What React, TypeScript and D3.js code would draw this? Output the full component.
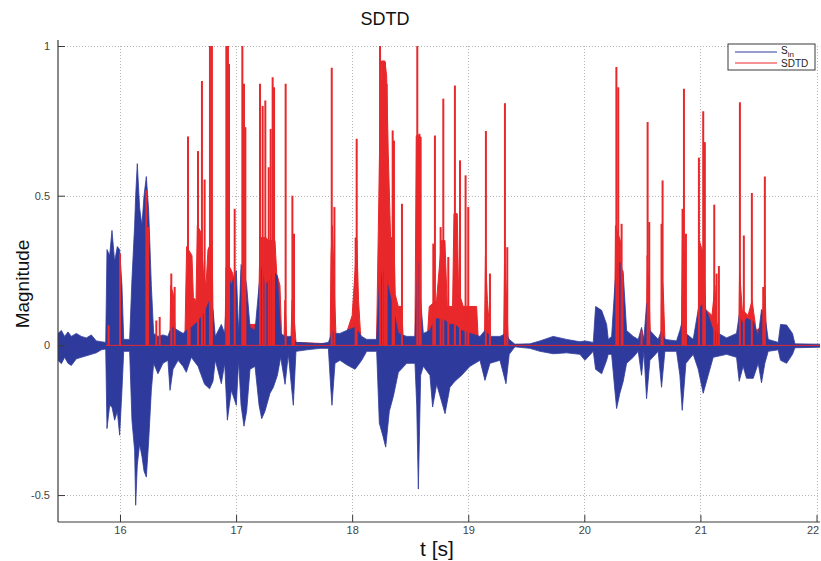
import { useEffect, useRef } from "react";
import * as d3 from "d3";

// S_in envelope: time, upper and lower extent
const sinT = [
  15.466, 15.495, 15.523, 15.552, 15.581, 15.624, 15.667, 15.71, 15.753, 15.796, 15.839, 15.877,
  15.888, 15.911, 15.931, 15.954, 15.977, 15.997, 16.017, 16.032, 16.083,
  16.103, 16.126, 16.135, 16.149, 16.169, 16.189, 16.207, 16.227, 16.247, 16.27, 16.29,
  16.327, 16.37, 16.413, 16.431, 16.457, 16.5, 16.543, 16.571, 16.614, 16.672, 16.729, 16.772, 16.801, 16.821,
  16.873, 16.902, 16.925, 16.959, 17.002, 17.022,
  17.043, 17.068, 17.091, 17.12, 17.163, 17.198, 17.221, 17.249, 17.292, 17.321, 17.356, 17.384,
  17.422, 17.45, 17.493, 17.516, 17.608, 17.723, 17.795, 17.815, 17.826, 17.852, 17.895, 17.953,
  18.025, 18.082, 18.125, 18.211, 18.234, 18.263, 18.289, 18.32, 18.355, 18.398, 18.47, 18.541,
  18.556, 18.57, 18.59, 18.613, 18.67, 18.693, 18.728, 18.8, 18.842, 18.885, 18.943, 19.015,
  19.101, 19.144, 19.187, 19.273, 19.325, 19.353, 19.402, 19.531, 19.618, 19.732, 19.847, 19.962,
  20.005, 20.077, 20.097, 20.149, 20.192, 20.206, 20.235, 20.263, 20.278, 20.306, 20.335, 20.364,
  20.421, 20.464, 20.493, 20.513, 20.536, 20.565, 20.636, 20.665, 20.694, 20.794, 20.823, 20.843,
  20.875, 20.938, 20.981, 21.024, 21.067, 21.11, 21.225, 21.311, 21.334, 21.368, 21.397, 21.455,
  21.498, 21.526, 21.555, 21.584, 21.67, 21.69, 21.742, 21.793, 21.814, 22.037,
];
const sinHi = [
  0.04, 0.05, 0.03, 0.045, 0.03, 0.04, 0.03, 0.025, 0.035, 0.015, 0.012, 0.01,
  0.32, 0.3, 0.384, 0.28, 0.33, 0.32, 0.2, 0.02, 0.02,
  0.22, 0.4, 0.5, 0.607, 0.46, 0.4, 0.5, 0.564, 0.45, 0.2, 0.04,
  0.03, 0.035, 0.03, 0.05, 0.06, 0.05, 0.04, 0.05, 0.06, 0.08, 0.11, 0.15, 0.12, 0.03,
  0.07, 0.04, 0.24, 0.2, 0.25, 0.04,
  0.27, 0.25, 0.2, 0.06, 0.05, 0.2, 0.26, 0.2, 0.22, 0.25, 0.23, 0.04,
  0.03, 0.03, 0.03, 0.01, 0.008, 0.005, 0.01, 0.03, 0.05, 0.04, 0.04, 0.05,
  0.06, 0.03, 0.02, 0.02, 0.2, 0.25, 0.23, 0.18, 0.12, 0.04, 0.03, 0.03,
  0.2, 0.28, 0.15, 0.04, 0.05, 0.07, 0.09, 0.083, 0.07, 0.07, 0.05, 0.04,
  0.03, 0.05, 0.03, 0.03, 0.04, 0.02, 0.004, 0.005, 0.015, 0.03, 0.02, 0.012,
  0.015, 0.01, 0.13, 0.117, 0.07, 0.02, 0.03, 0.2, 0.27, 0.278, 0.24, 0.05,
  0.03, 0.02, 0.06, 0.02, 0.14, 0.05, 0.02, 0.05, 0.02, 0.015, 0.05, 0.08,
  0.04, 0.02, 0.12, 0.14, 0.1, 0.05, 0.025, 0.04, 0.1, 0.07, 0.09, 0.08,
  0.03, 0.12, 0.1, 0.02, 0.01, 0.07, 0.068, 0.04, 0.005, 0.004,
];
const sinLo = [
  -0.05, -0.061, -0.04, -0.06, -0.067, -0.045, -0.04, -0.035, -0.03, -0.025, -0.015, -0.012,
  -0.278, -0.2, -0.206, -0.25, -0.22, -0.3, -0.15, -0.02, -0.02,
  -0.25, -0.35, -0.534, -0.4, -0.33, -0.37, -0.42, -0.44, -0.32, -0.15, -0.06,
  -0.095, -0.06, -0.05, -0.15, -0.08, -0.05, -0.07, -0.09, -0.04, -0.07, -0.13, -0.145, -0.12, -0.05,
  -0.128, -0.06, -0.25, -0.15, -0.2, -0.05,
  -0.2, -0.27, -0.22, -0.08, -0.07, -0.2, -0.245, -0.22, -0.16, -0.14, -0.1, -0.04,
  -0.13, -0.03, -0.2, -0.02, -0.015, -0.01, -0.01, -0.14, -0.2, -0.06, -0.05, -0.065,
  -0.08, -0.05, -0.02, -0.02, -0.26, -0.3, -0.34, -0.22, -0.17, -0.09, -0.06, -0.06,
  -0.2, -0.48, -0.1, -0.07, -0.1, -0.206, -0.13, -0.228, -0.14, -0.12, -0.1, -0.07,
  -0.05, -0.117, -0.06, -0.05, -0.128, -0.03, -0.005, -0.01, -0.02, -0.028, -0.025, -0.03,
  -0.05, -0.02, -0.08, -0.095, -0.05, -0.03, -0.03, -0.15, -0.211, -0.16, -0.12, -0.06,
  -0.04, -0.02, -0.1, -0.02, -0.178, -0.05, -0.02, -0.14, -0.02, -0.02, -0.1, -0.217,
  -0.06, -0.03, -0.08, -0.16, -0.1, -0.04, -0.03, -0.04, -0.12, -0.07, -0.11, -0.11,
  -0.06, -0.125, -0.06, -0.02, -0.015, -0.05, -0.06, -0.03, -0.008, -0.006,
];

// SDTD solid body
const sdtdBodyT = [
  15.88, 15.9, 15.92, 15.985, 15.995, 16.005, 16.02,
  16.2, 16.215, 16.225, 16.24, 16.255, 16.27, 16.285,
  16.43, 16.437, 16.46, 16.475, 16.52, 16.56, 16.574, 16.62, 16.632, 16.655, 16.666, 16.695,
  16.718, 16.741, 16.758, 16.793, 16.804, 16.905, 16.913, 16.948, 16.971, 16.994, 17.011,
  17.037, 17.045, 17.068, 17.083, 17.106, 17.192, 17.206, 17.258, 17.278, 17.335, 17.35, 17.378,
  17.393, 17.413, 17.421, 17.436, 17.473, 17.482, 17.499, 17.516,
  17.81, 17.818, 17.83, 17.845, 17.86, 17.9, 17.95, 18.0, 18.025, 18.04, 18.055, 18.075,
  18.21, 18.225, 18.239, 18.253, 18.282, 18.297, 18.311, 18.331, 18.36, 18.371, 18.397, 18.426, 18.44,
  18.541, 18.552, 18.584, 18.592, 18.612, 18.647, 18.664, 18.727, 18.77, 18.799, 18.819, 18.865,
  18.877, 18.905, 18.917, 18.957, 19.072, 19.086, 19.14, 19.148, 19.165, 19.19,
  19.305, 19.313, 19.33, 19.345, 19.4, 20.26, 20.268, 20.31, 20.325, 20.34, 20.36,
  20.535, 20.541, 20.56, 20.57, 20.66, 20.667, 20.68, 20.695, 20.835, 20.845, 20.865, 20.88,
  20.98, 20.99, 21.03, 21.045, 21.1, 21.125, 21.14, 21.17, 21.33, 21.337, 21.36, 21.41, 21.445, 21.48,
  21.52, 21.54, 21.555, 21.57, 21.69, 21.71, 21.74, 21.78,
];
const sdtdBodyV = [
  0, 0.06, 0.03, 0.05, 0.25, 0.2, 0,
  0, 0.2, 0.45, 0.4, 0.2, 0.05, 0.01,
  0.01, 0.2, 0.17, 0.05, 0.02, 0.04, 0.33, 0.3, 0.16, 0.15, 0.4, 0.38,
  0.25, 0.2, 0.32, 0.35, 0.02, 0.02, 0.26, 0.26, 0.24, 0.2, 0.02,
  0.02, 0.25, 0.24, 0.13, 0.07, 0.07, 0.36, 0.36, 0.35, 0.35, 0.24, 0.2,
  0.02, 0.02, 0.15, 0.02, 0.02, 0.15, 0.1, 0.01,
  0.005, 0.3, 0.4, 0.2, 0.04, 0.02, 0.04, 0.1, 0.25, 0.35, 0.15, 0.02,
  0.01, 0.38, 0.73, 0.95, 0.95, 0.9, 0.64, 0.36, 0.36, 0.17, 0.13, 0.13, 0.02,
  0.02, 0.7, 0.7, 0.1, 0.02, 0.02, 0.13, 0.15, 0.35, 0.35, 0.13, 0.13,
  0.44, 0.44, 0.18, 0.13, 0.13, 0.02, 0.02, 0.3, 0.15, 0.02,
  0.02, 0.3, 0.15, 0.01, 0.003, 0.003, 0.4, 0.35, 0.2, 0.06, 0.01,
  0.01, 0.3, 0.15, 0.01, 0.01, 0.25, 0.18, 0.01, 0.01, 0.35, 0.3, 0.02,
  0.02, 0.35, 0.3, 0.12, 0.1, 0.2, 0.08, 0.02, 0.02, 0.25, 0.12, 0.1, 0.15, 0.05,
  0.06, 0.12, 0.2, 0.01, 0.005, 0.025, 0.02, 0.005,
];

// SDTD peaks
const spikeT = [
  15.902, 16.0, 16.227, 16.241, 16.313, 16.342, 16.442, 16.471, 16.586, 16.6, 16.672, 16.706,
  16.729, 16.775, 16.792, 16.916, 16.93, 16.939, 16.988, 17.054, 17.068, 17.08, 17.206, 17.229,
  17.252, 17.281, 17.298, 17.315, 17.327, 17.427, 17.485, 17.499, 17.824, 17.847, 18.03, 18.039,
  18.24, 18.263, 18.283, 18.297, 18.349, 18.36, 18.429, 18.561, 18.579, 18.59, 18.699, 18.713,
  18.762, 18.785, 18.828, 18.885, 18.929, 18.977, 19.0, 19.152, 19.187, 19.316, 19.336, 20.276,
  20.292, 20.321, 20.329, 20.493, 20.545, 20.559, 20.665, 20.674, 20.846, 20.858, 20.875, 20.987,
  21.024, 21.038, 21.119, 21.139, 21.159, 21.34, 21.374, 21.443, 21.541, 21.555,
];
const spikeV = [
  0.067, 0.306, 0.518, 0.395, 0.083, 0.095, 0.24, 0.195, 0.698, 0.306, 0.649, 0.883,
  0.554, 1.0, 1.0, 1.0, 1.0, 0.94, 0.456, 1.0, 0.874, 0.729, 0.874, 0.8,
  0.818, 0.595, 0.723, 0.896, 0.862, 0.874, 0.5, 0.373, 0.927, 0.462, 0.36, 0.69,
  1.0, 0.95, 0.946, 0.874, 0.718, 0.684, 0.473, 1.0, 0.707, 0.696, 0.34, 0.701,
  0.395, 0.824, 0.295, 0.868, 0.618, 0.568, 0.462, 0.716, 0.24, 0.809, 0.328, 0.93,
  0.862, 0.406, 0.25, 0.05, 0.746, 0.412, 0.406, 0.551, 0.456, 0.857, 0.373, 0.627,
  0.782, 0.679, 0.47, 0.24, 0.265, 0.812, 0.367, 0.509, 0.195, 0.564,
];

const xTicks = [16, 17, 18, 19, 20, 21, 22];
const yTicks = [-0.5, 0, 0.5, 1];

const BLUE = "#2e3b9c";
const RED = "#e8282b";
const FONT = "'Liberation Sans', Arial, sans-serif";

export default function App() {
  const ref = useRef<SVGSVGElement>(null);

  useEffect(() => {
    const W = 821, H = 561;
    const left = 58, right = 820, top = 46, bottom = 522;

    const svg = d3.select(ref.current).attr("width", W).attr("height", H);
    svg.selectAll("*").remove();
    svg.append("rect").attr("width", W).attr("height", H).attr("fill", "#fff");

    const x = d3.scaleLinear().domain([15.466, 22.03]).range([left, right]);
    const y = d3.scaleLinear().domain([-0.59, 1]).range([bottom, top]);

    svg.append("defs").append("clipPath").attr("id", "plot")
      .append("rect").attr("x", left).attr("y", top - 2).attr("width", right - left).attr("height", bottom - top + 2);

    // --- grid
    const grid = svg.append("g").attr("stroke", "#b5b5b5").attr("stroke-width", 1).attr("stroke-dasharray", "1,2");
    grid.selectAll("line.gx").data(xTicks).join("line")
      .attr("x1", d => Math.round(x(d)) + 0.5).attr("x2", d => Math.round(x(d)) + 0.5)
      .attr("y1", top).attr("y2", bottom);
    grid.selectAll("line.gy").data(yTicks).join("line")
      .attr("y1", d => Math.round(y(d)) + 0.5).attr("y2", d => Math.round(y(d)) + 0.5)
      .attr("x1", left).attr("x2", right);

    const plot = svg.append("g").attr("clip-path", "url(#plot)");

    // --- SDTD body
    const body = sdtdBodyT.map((t, i) => [t, sdtdBodyV[i]] as [number, number]);
    plot.append("path")
      .datum(body)
      .attr("fill", RED)
      .attr("stroke", RED)
      .attr("stroke-width", 1)
      .attr("d", d3.area<[number, number]>().x(d => x(d[0])).y0(y(0)).y1(d => y(d[1])));

    // --- S_in
    const sin = sinT.map((t, i) => ({ t, hi: sinHi[i], lo: sinLo[i] }));
    plot.append("path")
      .datum(sin)
      .attr("fill", BLUE)
      .attr("stroke", BLUE)
      .attr("stroke-width", 0.8)
      .attr("d", d3.area<{ t: number; hi: number; lo: number }>()
        .x(d => x(d.t)).y0(d => y(d.lo)).y1(d => y(d.hi)));

    // --- SDTD peaks
    plot.append("g").selectAll("line").data(spikeT).join("line")
      .attr("x1", d => x(d)).attr("x2", d => x(d))
      .attr("y1", y(0)).attr("y2", (_, i) => y(spikeV[i]))
      .attr("stroke", RED).attr("stroke-width", 2);

    // baseline of SDTD
    plot.append("line")
      .attr("x1", x(15.88)).attr("x2", right)
      .attr("y1", y(0)).attr("y2", y(0))
      .attr("stroke", RED).attr("stroke-width", 1);

    // --- axes
    const fmt = (d: d3.NumberValue) => String(+d);
    const ax = svg.append("g").attr("transform", `translate(0,${bottom})`)
      .call(d3.axisBottom(x).tickValues(xTicks).tickSize(-7).tickPadding(4).tickFormat(fmt));
    const ay = svg.append("g").attr("transform", `translate(${left},0)`)
      .call(d3.axisLeft(y).tickValues(yTicks).tickSize(-7).tickPadding(8).tickFormat(fmt));
    [ax, ay].forEach(g => {
      g.select(".domain").attr("stroke", "#3a3a3a").attr("stroke-width", 1.2);
      g.selectAll(".tick line").attr("stroke", "#3a3a3a");
      g.selectAll(".tick text").attr("fill", "#444").style("font", `11px ${FONT}`);
    });
    ax.selectAll<SVGTextElement, number>(".tick text").filter(d => d === 22).attr("dx", -4);
    ay.select(".domain").attr("d", `M0,${top - 6}V${bottom}`);
    ax.select(".domain").attr("d", `M${left},0H${right}`);

    // --- titles
    svg.append("text").attr("x", 385).attr("y", 25).attr("text-anchor", "middle")
      .style("font", `18px ${FONT}`).attr("fill", "#111").text("SDTD");
    svg.append("text").attr("x", 437).attr("y", 556).attr("text-anchor", "middle")
      .style("font", `21px ${FONT}`).attr("fill", "#111").text("t [s]");
    svg.append("text").attr("transform", "translate(29,284) rotate(-90)").attr("text-anchor", "middle")
      .style("font", `19px ${FONT}`).attr("fill", "#111").text("Magnitude");

    // --- legend
    const lg = svg.append("g").attr("transform", "translate(728,44)");
    lg.append("rect").attr("width", 87).attr("height", 26).attr("fill", "#fff")
      .attr("stroke", "#3a3a3a").attr("stroke-width", 1);
    const items = [{ c: BLUE, y: 8 }, { c: RED, y: 19 }];
    lg.selectAll("line").data(items).join("line")
      .attr("x1", 7).attr("x2", 49).attr("y1", d => d.y).attr("y2", d => d.y)
      .attr("stroke", d => d.c).attr("stroke-width", 1);
    const s = lg.append("text").attr("x", 53).attr("y", 10).style("font", `10px ${FONT}`).attr("fill", "#222");
    s.append("tspan").text("S");
    s.append("tspan").attr("dy", 3).style("font-size", "8px").text("in");
    lg.append("text").attr("x", 53).attr("y", 23).style("font", `10px ${FONT}`).attr("fill", "#222").text("SDTD");
  }, []);

  return <svg ref={ref} style={{ position: "absolute", left: 0, top: 0 }} />;
}
